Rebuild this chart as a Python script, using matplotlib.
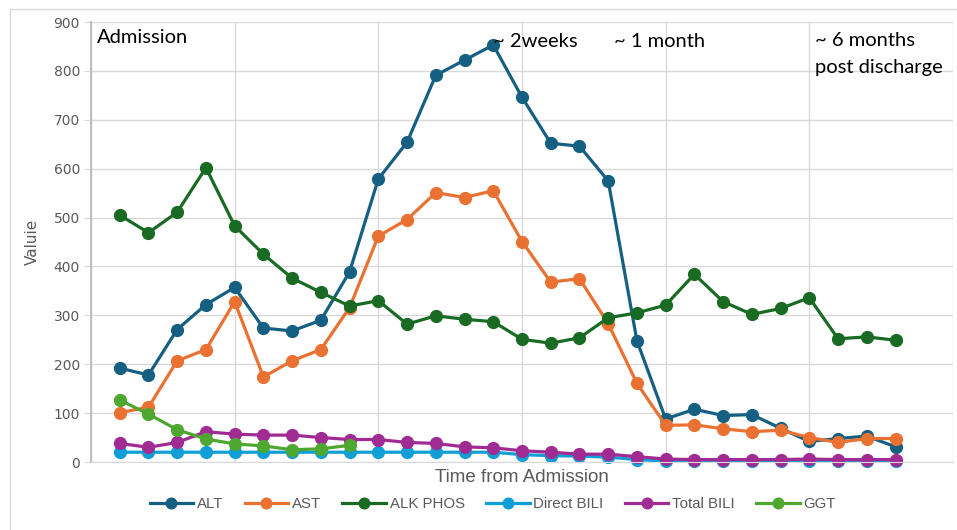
import numpy as np
import matplotlib
matplotlib.use("Agg")
import matplotlib.pyplot as plt
from matplotlib.lines import Line2D

# liver panel values, one point per visit
visit = list(range(1, 29))
alt = [192, 178, 271, 322, 357, 274, 268, 290, 389, 579, 654, 791, 822, 853,
       746, 652, 646, 575, 248, 88, 108, 95, 97, 69, 42, 48, 53, 31]
ast = [101, 112, 207, 230, 328, 174, 207, 230, 316, 462, 496, 551, 541, 555,
       451, 368, 375, 283, 161, 75, 76, 68, 62, 65, 50, 40, 48, 48]
alk_phos = [505, 469, 511, 602, 483, 425, 376, 347, 319, 330, 282, 299, 292, 287,
            251, 243, 254, 295, 305, 321, 384, 328, 302, 314, 336, 252, 256, 249]
direct_bili = [20, 20, 20, 20, 20, 20, 20, 20, 20, 20, 20, 20, 20, 20,
               15, 13, 12, 10, 5, 2, 2, 2, 2, 2, 2, 2, 2, 2]
total_bili = [38, 30, 40, 62, 57, 55, 55, 50, 46, 46, 40, 38, 31, 29,
              23, 20, 16, 16, 11, 6, 5, 5, 5, 5, 6, 5, 5, 5]
ggt = [127, 98, 66, 47, 37, 33, 25, 27, 34]

series = [
    ("ALT", alt, "#156082"),
    ("AST", ast, "#E97132"),
    ("ALK PHOS", alk_phos, "#196B24"),
    ("Direct BILI", direct_bili, "#0F9ED5"),
    ("Total BILI", total_bili, "#A02B93"),
    ("GGT", ggt, "#4EA72E"),
]

notes = [
    (0.2, 886, "Admission"),
    (14.0, 878, "~ 2weeks"),
    (18.2, 878, "~ 1 month"),
    (25.2, 880, "~ 6 months\npost discharge"),
]

label_font = ["Lato", "DejaVu Sans"]
axis_font = ["Liberation Sans", "DejaVu Sans"]

fig = plt.figure(figsize=(9.57, 5.3), dpi=100)
ax = fig.add_axes([91 / 957, 1 - 462 / 530, 862 / 957, 440 / 530])

# chart border (only top and left are inside the picture)
fig.add_artist(Line2D([10 / 957, 10 / 957], [0, 1 - 9 / 530], transform=fig.transFigure,
                      color="#d9d9d9", lw=1))
fig.add_artist(Line2D([10 / 957, 1], [1 - 9 / 530, 1 - 9 / 530], transform=fig.transFigure,
                      color="#d9d9d9", lw=1))

for name, vals, col in series:
    ax.plot(visit[:len(vals)], vals, color=col, lw=2.3, marker="o", markersize=8.5,
            label=name, clip_on=False)

ax.set_xlim(0, 30)
ax.set_ylim(0, 900)
ax.set_xticks(np.arange(0, 31, 5))
ax.set_yticks(np.arange(0, 901, 100))
ax.grid(True, color="#d9d9d9", lw=1)
ax.set_axisbelow(True)
ax.tick_params(axis="x", length=0, labelbottom=False)
ax.tick_params(axis="y", length=5, color="#d9d9d9", labelsize=10, labelcolor="#595959", pad=3)
for s in ["top", "right"]:
    ax.spines[s].set_visible(False)
ax.spines["left"].set_color("#bfbfbf")
ax.spines["left"].set_linewidth(1.5)
ax.spines["bottom"].set_color("#d9d9d9")

ax.set_ylabel("Valuie", fontsize=11, color="#595959", labelpad=10)
ax.set_xlabel("Time from Admission", fontsize=13.5, color="#595959",
              family=axis_font, labelpad=5)

for xpos, ypos, txt in notes:
    ax.text(xpos, ypos, txt, fontsize=14.5, family=label_font, va="top", ha="left",
            color="black", linespacing=1.75)

# legend sits a bit left of the axis centre in the original
ax.legend(loc="center", bbox_to_anchor=(0.466, -0.095), ncol=6, frameon=False,
          prop={"family": axis_font, "size": 10.8}, labelcolor="#595959",
          handlelength=2.9, handletextpad=0.25, columnspacing=1.42, markerscale=0.9)

fig.savefig("out.png", dpi=100)
